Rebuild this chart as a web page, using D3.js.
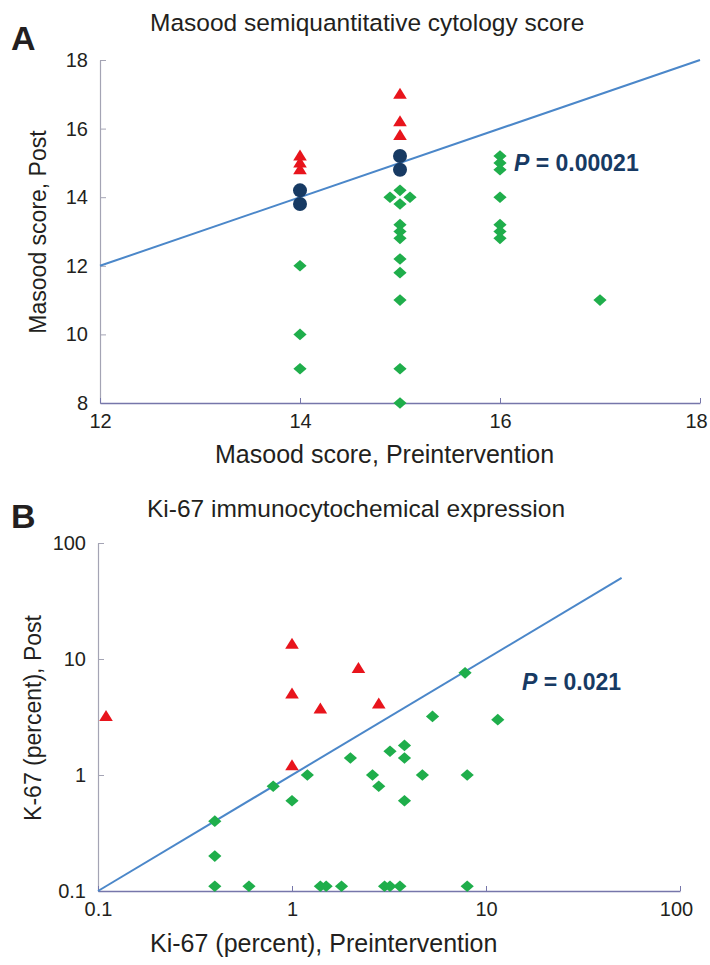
<!DOCTYPE html>
<html>
<head>
<meta charset="utf-8">
<script src="https://cdn.jsdelivr.net/npm/d3@7"></script>
<style>
  body { margin: 0; background: #fff; }
  text { font-family: "Liberation Sans", Arial, sans-serif; fill: #231f20; }
</style>
</head>
<body>
<div id="chart"></div>
<script>
// Panel A - Masood score (pre vs post)
const masoodTicksX = [12, 14, 16, 18];
const masoodTicksY = [8, 10, 12, 14, 16, 18];
const masoodIncPre  = [14, 14, 14, 15, 15, 15];
const masoodIncPost = [15.2, 15.0, 14.8, 17.0, 16.2, 15.8];
const masoodSamePre  = [14, 14, 15, 15];
const masoodSamePost = [14.2, 13.8, 15.2, 14.8];
const masoodDecPre  = [14, 14, 14, 15, 14.9, 15.1, 15, 15, 15, 15, 15, 15, 15, 15, 15, 16, 16, 16, 16, 16, 16, 16, 17];
const masoodDecPost = [12, 10, 9, 14.2, 14, 14, 13.8, 13.2, 13, 12.8, 12.2, 11.8, 11, 9, 8, 15.2, 15, 14.8, 14, 13.2, 13, 12.8, 11];

// Panel B - Ki-67 (pre vs post, log scale)
const kiTicks = [0.1, 1, 10, 100];
const kiIncPre  = [0.11, 1, 1, 1, 1.4, 2.2, 2.8];
const kiIncPost = [3.2, 13.4, 5, 1.2, 3.7, 8.3, 4.1];
const kiDecPre  = [7.8, 5.3, 11.5, 3.2, 3.8, 3.8, 2.0, 0.4, 0.4, 0.8, 1.0, 1.2, 2.6, 2.8, 3.8, 4.7, 8.0,
                   0.4, 0.6, 1.4, 1.5, 1.8, 3.0, 3.2, 3.6, 8.0];
const kiDecPost = [7.6, 3.2, 3.0, 1.6, 1.8, 1.4, 1.4, 0.4, 0.2, 0.8, 0.6, 1.0, 1.0, 0.8, 0.6, 1.0, 1.0,
                   0.11, 0.11, 0.11, 0.11, 0.11, 0.11, 0.11, 0.11, 0.11];

const width = 710;
const height = 965;

const red = '#e8141c';
const green = '#1fae4b';
const navy = '#173a63';
const lineBlue = '#4b87c9';

const svg = d3.select('#chart')
              .append('svg')
              .attr('width', width)
              .attr('height', height);

const diamond = 'M0,-5.8L6.6,0L0,5.8L-6.6,0Z';
const triangle = 'M0,-6.5L6.8,4.5L-6.8,4.5Z';

function drawAxes(g, x, y, ticksX, ticksY, fmt) {
  const xAxis = d3.axisBottom(x).tickValues(ticksX).tickSizeInner(-5).tickSizeOuter(0).tickPadding(11).tickFormat(fmt);
  const yAxis = d3.axisLeft(y).tickValues(ticksY).tickSizeInner(-6).tickSizeOuter(0).tickPadding(12).tickFormat(fmt);

  const gy = g.append('g')
              .attr('transform', 'translate(' + x.range()[0] + ',0)')
              .call(yAxis);
  gy.select('.domain').attr('stroke', '#a4a4b4').attr('stroke-width', 1.2);
  gy.selectAll('.tick line').attr('stroke', '#a4a4b4');
  gy.selectAll('.tick text').attr('font-size', 20).attr('fill', '#231f20');

  const gx = g.append('g')
              .attr('transform', 'translate(0,' + y.range()[0] + ')')
              .call(xAxis);
  gx.select('.domain').attr('stroke', '#7676aa').attr('stroke-width', 1.5);
  gx.selectAll('.tick line').attr('stroke', '#7676aa');
  gx.selectAll('.tick text').attr('font-size', 20).attr('fill', '#231f20');
  // keep the last label inside the page
  gx.selectAll('.tick text').filter((d, i, n) => i === n.length - 1).attr('dx', -4);
}

//---------------- Panel A ----------------
const xA = d3.scaleLinear().domain([12, 18]).range([100, 700]);
const yA = d3.scaleLinear().domain([8, 18]).range([403, 60]);
const gA = svg.append('g');

drawAxes(gA, xA, yA, masoodTicksX, masoodTicksY, d3.format('d'));

gA.append('line')
  .attr('x1', xA(12)).attr('y1', yA(12))
  .attr('x2', xA(18)).attr('y2', yA(18))
  .attr('stroke', lineBlue)
  .attr('stroke-width', 2);

gA.selectAll('.decA')
  .data(masoodDecPre)
  .enter()
  .append('path')
  .attr('d', diamond)
  .attr('fill', green)
  .attr('transform', (d, i) => 'translate(' + xA(d) + ',' + yA(masoodDecPost[i]) + ')');

gA.selectAll('.sameA')
  .data(masoodSamePre)
  .enter()
  .append('circle')
  .attr('r', 7)
  .attr('fill', navy)
  .attr('cx', d => xA(d))
  .attr('cy', (d, i) => yA(masoodSamePost[i]));

gA.selectAll('.incA')
  .data(masoodIncPre)
  .enter()
  .append('path')
  .attr('d', triangle)
  .attr('fill', red)
  .attr('transform', (d, i) => 'translate(' + xA(d) + ',' + yA(masoodIncPost[i]) + ')');

//Titles A
svg.append('text').text('A')
   .attr('x', 11).attr('y', 50)
   .attr('font-size', 34).attr('font-weight', 'bold');
svg.append('text').text('Masood semiquantitative cytology score')
   .attr('x', 150).attr('y', 31)
   .attr('font-size', 24.5);
svg.append('text').text('Masood score, Preintervention')
   .attr('x', 215).attr('y', 463)
   .attr('font-size', 25);
svg.append('text').text('Masood score, Post')
   .attr('transform', 'translate(46,232) rotate(-90)')
   .attr('text-anchor', 'middle')
   .attr('font-size', 23);
svg.append('text')
   .attr('x', 514).attr('y', 171)
   .attr('font-size', 23).attr('font-weight', 'bold')
   .style('fill', navy)
   .call(t => {
     t.append('tspan').attr('font-style', 'italic').text('P');
     t.append('tspan').text(' = 0.00021');
   });

//---------------- Panel B ----------------
const xB = d3.scaleLog().domain([0.1, 100]).range([98, 680]);
const yB = d3.scaleLog().domain([0.1, 100]).range([891, 543]);
const gB = svg.append('g');

drawAxes(gB, xB, yB, kiTicks, kiTicks, d => d < 1 ? '0.1' : d3.format('d')(d));

gB.append('line')
  .attr('x1', xB(0.1)).attr('y1', yB(0.1))
  .attr('x2', xB(50)).attr('y2', yB(50))
  .attr('stroke', lineBlue)
  .attr('stroke-width', 2);

gB.selectAll('.decB')
  .data(kiDecPre)
  .enter()
  .append('path')
  .attr('d', diamond)
  .attr('fill', green)
  .attr('transform', (d, i) => 'translate(' + xB(d) + ',' + yB(kiDecPost[i]) + ')');

gB.selectAll('.incB')
  .data(kiIncPre)
  .enter()
  .append('path')
  .attr('d', triangle)
  .attr('fill', red)
  .attr('transform', (d, i) => 'translate(' + xB(d) + ',' + yB(kiIncPost[i]) + ')');

//Titles B
svg.append('text').text('B')
   .attr('x', 11).attr('y', 528)
   .attr('font-size', 34).attr('font-weight', 'bold');
svg.append('text').text('Ki-67 immunocytochemical expression')
   .attr('x', 147).attr('y', 517)
   .attr('font-size', 24.5);
svg.append('text').text('Ki-67 (percent), Preintervention')
   .attr('x', 150).attr('y', 952)
   .attr('font-size', 25);
svg.append('text').text('K-67 (percent), Post')
   .attr('transform', 'translate(41,718) rotate(-90)')
   .attr('text-anchor', 'middle')
   .attr('font-size', 23);
svg.append('text')
   .attr('x', 522).attr('y', 690)
   .attr('font-size', 23).attr('font-weight', 'bold')
   .style('fill', navy)
   .call(t => {
     t.append('tspan').attr('font-style', 'italic').text('P');
     t.append('tspan').text(' = 0.021');
   });
</script>
</body>
</html>
